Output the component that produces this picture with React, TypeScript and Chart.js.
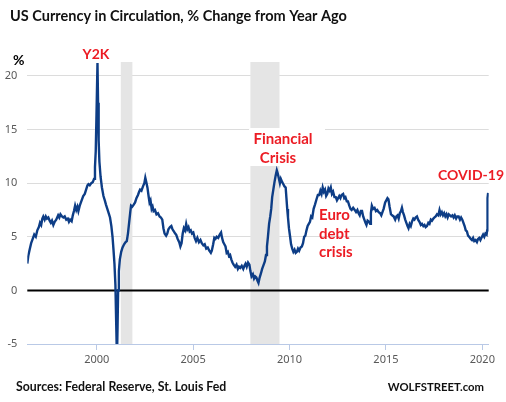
import React, { useEffect, useRef } from "react";
import { Chart, registerables } from "chart.js";

Chart.register(...registerables);

// Decimal-year dates and % change from year ago
const years: number[] = [
  1996.40, 1996.45, 1996.52, 1996.60, 1996.68, 1996.76, 1996.84, 1996.92, 1997.00, 1997.06,
  1997.12, 1997.18, 1997.23, 1997.30, 1997.36, 1997.42, 1997.49, 1997.56, 1997.62, 1997.68,
  1997.75, 1997.82, 1997.90, 1998.00, 1998.06, 1998.12, 1998.20, 1998.27, 1998.34, 1998.42,
  1998.50, 1998.56, 1998.62, 1998.70, 1998.76, 1998.82, 1998.88, 1998.94, 1999.00, 1999.05,
  1999.12, 1999.20, 1999.30, 1999.38, 1999.45, 1999.52, 1999.57, 1999.64, 1999.72, 1999.80,
  1999.86, 1999.91, 1999.95, 1999.99, 2000.04, 2000.07, 2000.10, 2000.14, 2000.20, 2000.27,
  2000.35, 2000.42, 2000.48, 2000.55, 2000.62, 2000.69, 2000.76, 2000.82, 2000.87, 2000.92,
  2000.97, 2001.01, 2001.05, 2001.08, 2001.11, 2001.15, 2001.20, 2001.27, 2001.34, 2001.42,
  2001.50, 2001.56, 2001.62, 2001.68, 2001.74, 2001.78, 2001.84, 2001.92, 2001.99, 2002.06,
  2002.14, 2002.20, 2002.25, 2002.32, 2002.40, 2002.47, 2002.52, 2002.57, 2002.63, 2002.69,
  2002.74, 2002.79, 2002.85, 2002.90, 2002.95, 2003.02, 2003.10, 2003.18, 2003.26, 2003.33,
  2003.40, 2003.46, 2003.52, 2003.60, 2003.66, 2003.72, 2003.80, 2003.87, 2003.93, 2004.00,
  2004.07, 2004.12, 2004.20, 2004.28, 2004.34, 2004.40, 2004.46, 2004.52, 2004.58, 2004.64,
  2004.70, 2004.76, 2004.82, 2004.88, 2004.94, 2005.01, 2005.08, 2005.15, 2005.22, 2005.30,
  2005.38, 2005.45, 2005.53, 2005.60, 2005.68, 2005.76, 2005.84, 2005.92, 2005.97, 2006.04,
  2006.10, 2006.16, 2006.22, 2006.30, 2006.38, 2006.45, 2006.50, 2006.56, 2006.62, 2006.68,
  2006.74, 2006.80, 2006.86, 2006.92, 2006.98, 2007.04, 2007.10, 2007.18, 2007.25, 2007.32,
  2007.38, 2007.44, 2007.52, 2007.60, 2007.66, 2007.72, 2007.78, 2007.85, 2007.92, 2007.97,
  2008.03, 2008.10, 2008.16, 2008.22, 2008.28, 2008.34, 2008.39, 2008.45, 2008.52, 2008.58,
  2008.66, 2008.72, 2008.78, 2008.83, 2008.88, 2008.94, 2009.00, 2009.05, 2009.10, 2009.16,
  2009.22, 2009.28, 2009.34, 2009.39, 2009.44, 2009.50, 2009.55, 2009.62, 2009.68, 2009.74,
  2009.80, 2009.84, 2009.88, 2009.92, 2009.97, 2010.03, 2010.08, 2010.14, 2010.20, 2010.26,
  2010.32, 2010.38, 2010.44, 2010.50, 2010.57, 2010.64, 2010.70, 2010.76, 2010.82, 2010.88,
  2010.94, 2011.00, 2011.06, 2011.12, 2011.18, 2011.25, 2011.32, 2011.40, 2011.47, 2011.54,
  2011.60, 2011.66, 2011.72, 2011.78, 2011.84, 2011.90, 2011.96, 2012.02, 2012.08, 2012.14,
  2012.20, 2012.26, 2012.33, 2012.40, 2012.46, 2012.52, 2012.58, 2012.64, 2012.70, 2012.78,
  2012.84, 2012.90, 2012.97, 2013.03, 2013.10, 2013.16, 2013.22, 2013.30, 2013.38, 2013.45,
  2013.52, 2013.58, 2013.64, 2013.70, 2013.76, 2013.82, 2013.88, 2013.94, 2013.99, 2014.05,
  2014.12, 2014.18, 2014.22, 2014.27, 2014.34, 2014.41, 2014.48, 2014.55, 2014.62, 2014.70,
  2014.76, 2014.82, 2014.88, 2014.96, 2015.02, 2015.08, 2015.13, 2015.19, 2015.26, 2015.32,
  2015.40, 2015.48, 2015.54, 2015.60, 2015.66, 2015.72, 2015.78, 2015.83, 2015.88, 2015.94,
  2016.00, 2016.06, 2016.12, 2016.17, 2016.23, 2016.29, 2016.35, 2016.42, 2016.48, 2016.54,
  2016.61, 2016.67, 2016.74, 2016.81, 2016.87, 2016.94, 2017.00, 2017.06, 2017.13, 2017.20,
  2017.26, 2017.33, 2017.39, 2017.46, 2017.52, 2017.58, 2017.65, 2017.72, 2017.78, 2017.84,
  2017.90, 2017.96, 2018.02, 2018.08, 2018.14, 2018.20, 2018.26, 2018.32, 2018.38, 2018.45,
  2018.51, 2018.57, 2018.64, 2018.70, 2018.77, 2018.84, 2018.90, 2018.96, 2019.02, 2019.08,
  2019.14, 2019.20, 2019.26, 2019.32, 2019.40, 2019.46, 2019.52, 2019.58, 2019.65, 2019.72,
  2019.78, 2019.84, 2019.90, 2019.98, 2020.04, 2020.10, 2020.16, 2020.22, 2020.25, 2020.27,
  2020.30,
];

const values: number[] = [
  2.5, 3.2, 3.8, 4.4, 4.8, 5.2, 5.0, 5.6, 5.9, 6.3,
  6.1, 6.7, 6.9, 6.6, 6.9, 6.7, 6.8, 6.5, 6.3, 6.5,
  6.1, 6.4, 6.6, 7.0, 6.8, 7.1, 6.9, 6.8, 6.9, 6.6,
  6.7, 6.4, 6.6, 6.45, 7.0, 7.4, 7.9, 7.5, 7.8, 7.4,
  7.9, 8.3, 8.8, 9.0, 9.4, 9.8, 9.9, 9.8, 10.0, 10.1,
  10.4, 11.5, 13.0, 16.5, 21.2, 17.5, 14.0, 12.0, 10.6, 9.6,
  8.8, 8.4, 8.0, 7.6, 7.2, 6.8, 6.0, 5.0, 3.8, 2.5,
  0.5, -3.0, -6.5, -3.5, 0.0, 1.8, 2.9, 3.6, 4.0, 4.3,
  4.5, 4.6, 5.3, 6.3, 7.3, 7.9, 7.8, 8.0, 8.2, 8.6,
  8.9, 9.2, 9.4, 9.3, 9.7, 10.0, 10.5, 10.1, 9.6, 8.8,
  8.2, 8.4, 7.6, 7.8, 7.4, 7.5, 7.1, 7.2, 6.9, 6.8,
  6.6, 5.8, 5.3, 5.1, 5.3, 5.7, 5.9, 6.0, 5.7, 5.5,
  5.3, 5.2, 4.8, 4.5, 4.1, 4.4, 5.3, 5.8, 5.6, 6.2,
  5.7, 5.9, 5.5, 5.6, 5.3, 5.4, 4.9, 4.6, 4.9, 4.5,
  4.7, 4.4, 4.2, 4.3, 3.9, 4.0, 3.7, 3.5, 3.7, 4.3,
  4.9, 4.8, 5.0, 4.9, 5.2, 5.4, 4.9, 4.5, 4.3, 4.1,
  3.5, 3.6, 3.2, 3.3, 2.9, 2.6, 2.4, 2.2, 2.4, 2.0,
  2.2, 2.1, 2.3, 2.0, 2.3, 2.5, 2.2, 2.6, 2.4, 1.8,
  1.3, 1.5, 1.1, 1.3, 1.2, 0.9, 0.7, 1.2, 1.6, 2.0,
  2.4, 2.7, 3.3, 4.1, 5.0, 6.2, 6.9, 7.6, 8.7, 9.4,
  10.1, 10.7, 11.2, 10.9, 10.5, 10.0, 10.4, 10.1, 9.9, 9.7,
  9.6, 8.6, 7.6, 6.8, 5.8, 5.0, 4.3, 3.9, 3.6, 3.8,
  3.5, 3.6, 3.9, 3.7, 4.0, 4.1, 4.4, 5.0, 5.1, 5.6,
  6.0, 6.2, 6.4, 6.9, 6.8, 7.6, 8.0, 8.5, 8.9, 8.9,
  9.3, 9.0, 9.6, 9.2, 9.4, 8.8, 9.0, 9.5, 9.3, 9.6,
  9.0, 9.2, 8.7, 8.7, 8.4, 8.6, 8.8, 8.6, 8.9, 9.0,
  8.6, 8.7, 8.3, 8.3, 7.9, 7.6, 7.5, 7.7, 7.5, 7.3,
  7.5, 7.2, 7.0, 7.4, 7.4, 6.9, 6.6, 6.3, 6.1, 6.5,
  6.4, 6.2, 7.2, 7.9, 7.6, 7.7, 7.4, 7.5, 7.3, 7.2,
  7.0, 7.3, 7.6, 8.2, 8.4, 8.6, 8.5, 7.8, 7.1, 7.0,
  6.9, 6.6, 6.9, 7.0, 6.7, 7.2, 7.4, 7.7, 7.3, 7.0,
  6.6, 6.3, 6.0, 5.8, 6.2, 6.0, 6.4, 6.7, 6.6, 6.8,
  6.9, 6.6, 6.4, 6.1, 6.2, 6.0, 6.1, 5.9, 6.0, 6.3,
  6.2, 6.6, 6.5, 6.7, 6.8, 6.9, 7.1, 7.0, 7.5, 7.1,
  7.3, 7.0, 7.2, 6.9, 7.1, 6.8, 7.1, 7.0, 6.9, 7.0,
  6.8, 7.0, 6.7, 6.9, 6.9, 6.6, 6.8, 6.6, 6.3, 6.0,
  5.6, 5.5, 5.1, 5.0, 4.8, 4.7, 4.9, 4.6, 4.7, 4.5,
  4.8, 4.9, 4.7, 5.0, 5.2, 5.0, 5.3, 5.2, 5.6, 8.6,
  9.1,
];

const xTicks: number[] = [2000, 2005, 2010, 2015, 2020];
const yTicks: number[] = [-5, 0, 5, 10, 15, 20];
const recessionStarts: number[] = [2001.25, 2007.97];
const recessionEnds: number[] = [2001.85, 2009.48];

const titleText = "US Currency in Circulation, % Change from Year Ago";
const sourceText = "Sources: Federal Reserve, St. Louis Fed";
const brandText = "WOLFSTREET.com";

const RED = "#ec1c24";
const LINE = "#0d3d86";
const AXIS_BLUE = "#b9c9e6";

export default function App() {
  const ref = useRef<HTMLCanvasElement>(null);

  useEffect(() => {
    const canvas = ref.current;
    if (!canvas) return;
    const points = years.map((x, i) => ({ x, y: values[i] }));

    const deco = {
      id: "deco",
      beforeDatasetsDraw(chart: any) {
        const { ctx, chartArea: a, scales } = chart;
        const xs = scales.x;
        const ys = scales.y;
        ctx.save();
        ctx.fillStyle = "#e5e5e5";
        recessionStarts.forEach((s, i) => {
          const x0 = xs.getPixelForValue(s);
          const x1 = xs.getPixelForValue(recessionEnds[i]);
          ctx.fillRect(x0, a.top, x1 - x0, a.bottom - a.top);
        });
        const y0 = ys.getPixelForValue(0);
        ctx.strokeStyle = "#000000";
        ctx.lineWidth = 2;
        ctx.beginPath();
        ctx.moveTo(a.left, y0);
        ctx.lineTo(a.right, y0);
        ctx.stroke();
        ctx.strokeStyle = AXIS_BLUE;
        ctx.lineWidth = 1;
        ctx.beginPath();
        ctx.moveTo(a.left, Math.round(a.bottom) + 0.5);
        ctx.lineTo(a.right, Math.round(a.bottom) + 0.5);
        ctx.stroke();
        ctx.restore();
      },
      afterDraw(chart: any) {
        const { ctx } = chart;
        ctx.save();
        // white box behind "Financial Crisis"
        ctx.fillStyle = "#ffffff";
        ctx.fillRect(249, 128, 76, 38);

        ctx.textBaseline = "alphabetic";
        // title
        ctx.fillStyle = "#111111";
        ctx.font = "bold 14.5px Lato";
        ctx.textAlign = "left";
        ctx.fillText(titleText, 10, 21);

        // % unit
        ctx.font = "bold 14px Lato";
        ctx.fillStyle = "#000000";
        ctx.fillText("%", 13, 65);

        // annotations
        ctx.fillStyle = RED;
        ctx.textAlign = "center";
        ctx.font = "bold 14px Lato";
        ctx.fillText("Y2K", 96, 59);
        ctx.fillText("COVID-19", 471, 180);
        ctx.font = "bold 15px Lato";
        ctx.fillText("Financial", 283, 144);
        ctx.fillText("Crisis", 278, 162.5);
        ctx.textAlign = "left";
        ctx.fillText("Euro", 319, 220);
        ctx.fillText("debt", 319, 238.5);
        ctx.fillText("crisis", 319, 257);

        // footer
        ctx.fillStyle = "#111111";
        ctx.font = "bold 12.3px Lato";
        ctx.textAlign = "left";
        ctx.fillText(sourceText, 16, 391);
        ctx.font = "bold 11.3px Lato";
        ctx.textAlign = "right";
        ctx.fillText(brandText, 484, 391);
        ctx.restore();
      },
    };

    const chart = new Chart(canvas, {
      type: "line",
      data: {
        datasets: [
          {
            data: points,
            borderColor: LINE,
            borderWidth: 2.4,
            pointRadius: 0,
            fill: false,
            tension: 0,
          },
        ],
      },
      options: {
        animation: false,
        responsive: false,
        devicePixelRatio: 1,
        layout: { padding: { left: 0, top: 62, right: 17.3, bottom: 0 } },
        plugins: {
          legend: { display: false },
          tooltip: { enabled: false },
        },
        scales: {
          x: {
            type: "linear",
            min: 1996.4,
            max: 2020.33,
            afterBuildTicks: (s: any) => {
              s.ticks = xTicks.map((v) => ({ value: v }));
            },
            afterFit: (s: any) => {
              s.height = 58;
            },
            grid: {
              drawOnChartArea: false,
              drawTicks: true,
              tickLength: 6,
              color: AXIS_BLUE,
            },
            border: { color: AXIS_BLUE },
            ticks: {
              color: "#595959",
              font: { family: "Noto Sans", size: 11 },
              padding: 3,
              maxRotation: 0,
              autoSkip: false,
              callback: (v: any) => String(v),
            },
          },
          y: {
            type: "linear",
            min: -5,
            max: 21.3,
            afterBuildTicks: (s: any) => {
              s.ticks = yTicks.map((v) => ({ value: v }));
            },
            afterFit: (s: any) => {
              s.width = 27.3;
            },
            grid: {
              drawTicks: false,
              lineWidth: 1,
              color: (c: any) =>
                c.tick && (c.tick.value === 0 || c.tick.value === -5)
                  ? "rgba(0,0,0,0)"
                  : "#dcdcdc",
            },
            border: { display: false },
            ticks: {
              color: "#595959",
              font: { family: "Noto Sans", size: 11 },
              padding: 10,
              callback: (v: any) => String(v),
            },
          },
        },
      },
      plugins: [deco],
    } as any);

    return () => chart.destroy();
  }, []);

  return (
    <div
      style={{
        position: "fixed",
        left: 0,
        top: 0,
        width: 506,
        height: 402,
        background: "#ffffff",
      }}
    >
      <canvas ref={ref} width={506} height={402} style={{ display: "block" }} />
    </div>
  );
}
